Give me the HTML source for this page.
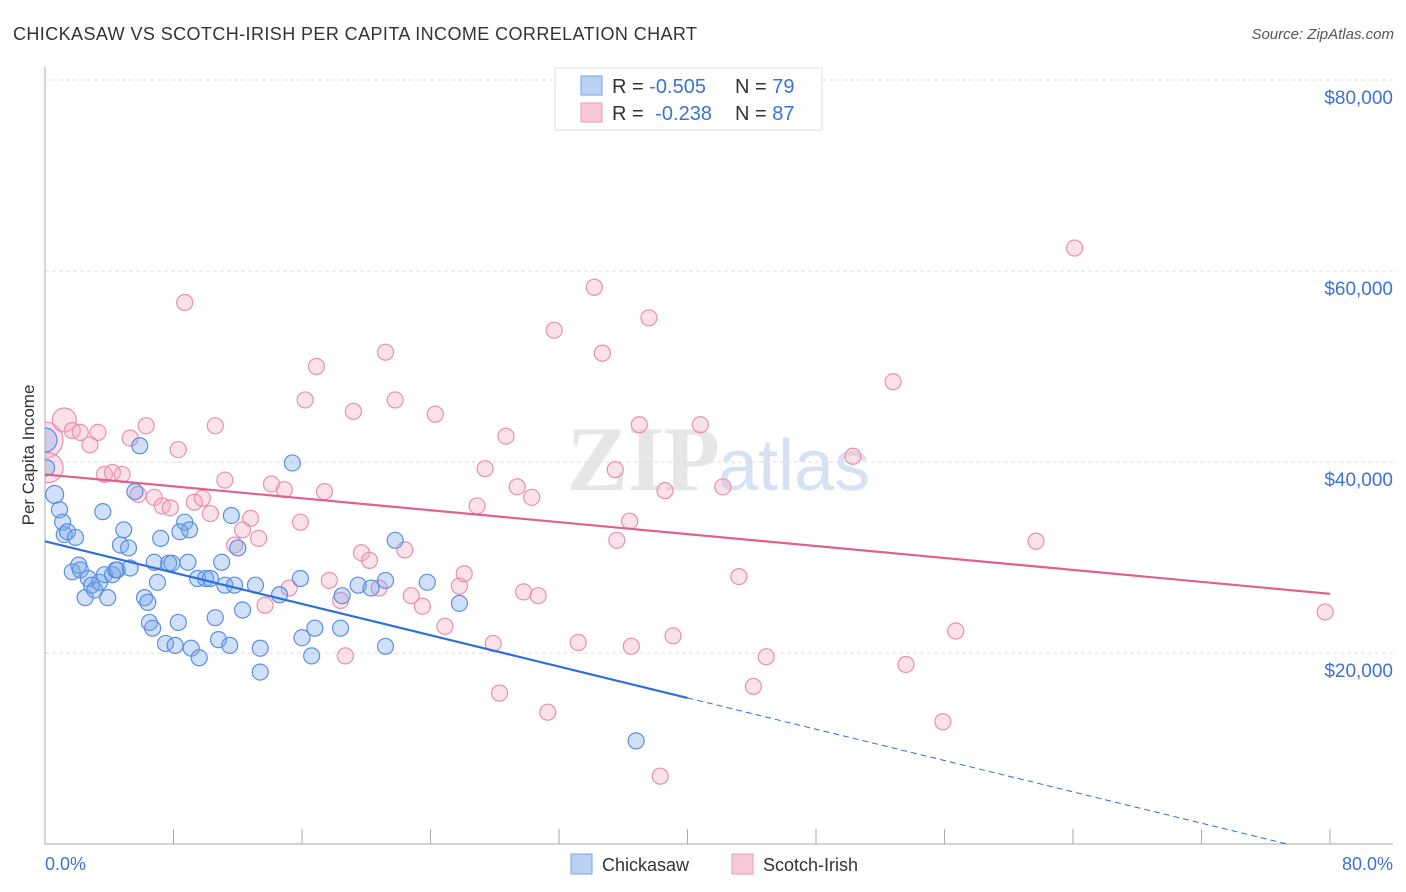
<!DOCTYPE html>
<html><head><meta charset="utf-8"><style>
body{margin:0;background:#fff;font-family:"Liberation Sans",sans-serif}
svg{display:block}
</style></head><body>
<svg id="chart" width="1406" height="892">
<defs><clipPath id="plotclip"><rect x="45" y="60" width="1360" height="784"/></clipPath></defs>
<text x="13" y="40" font-size="18" fill="#333" textLength="684">CHICKASAW VS SCOTCH-IRISH PER CAPITA INCOME CORRELATION CHART</text>
<text x="1394" y="39" font-size="15" fill="#555" font-style="italic" text-anchor="end">Source: ZipAtlas.com</text>
<text x="720" y="490" font-size="92" fill="#e6e6e6" text-anchor="end" font-family="Liberation Serif" font-weight="bold">ZIP</text>
<text x="718" y="490" font-size="72" fill="#d6e2f3">atlas</text>
<g id="grid"></g>
<g id="axes"></g>
<g id="pts" clip-path="url(#plotclip)"></g>
<g id="lines"></g>
<text transform="translate(34,455) rotate(-90)" font-size="17" fill="#333" text-anchor="middle">Per Capita Income</text>
<text x="45" y="870" font-size="18" fill="#3b73d0">0.0%</text>
<text x="1393" y="870" font-size="18" fill="#3b73d0" text-anchor="end">80.0%</text>
<g>
<rect x="555" y="68" width="267" height="62" fill="#fff" stroke="#ddd"/>
<rect x="581" y="76" width="21" height="19" fill="#b9d1f3" stroke="#7aa3e3"/>
<rect x="581" y="103" width="21" height="19" fill="#f9c9d7" stroke="#eb9ab4"/>
<text x="612" y="93" font-size="20" fill="#333">R = <tspan fill="#3b73d0">-0.505</tspan><tspan x="735">N = </tspan><tspan fill="#3b73d0">79</tspan></text>
<text x="612" y="120" font-size="20" fill="#333">R = <tspan fill="#3b73d0" dx="6">-0.238</tspan><tspan x="735">N = </tspan><tspan fill="#3b73d0">87</tspan></text>
</g>
<g>
<rect x="571" y="854" width="21" height="20" fill="#b9d1f3" stroke="#7aa3e3"/>
<text x="602" y="871" font-size="18" fill="#333">Chickasaw</text>
<rect x="732" y="854" width="21" height="20" fill="#f9c9d7" stroke="#eb9ab4"/>
<text x="763" y="871" font-size="18" fill="#333">Scotch-Irish</text>
</g>
</svg>
<script>
const yTicks=[20000,40000,60000,80000];
const yTickLabels=["$20,000","$40,000","$60,000","$80,000"];
const blueX=[0.0,0.1,0.6,0.9,1.1,1.2,1.4,1.7,1.9,2.1,2.2,2.5,2.7,2.9,3.1,3.4,3.6,3.7,3.9,4.2,4.4,4.5,4.7,4.9,5.2,5.3,5.6,5.9,6.2,6.4,6.5,6.7,6.8,7.0,7.2,7.5,7.7,7.9,8.1,8.3,8.4,8.7,8.9,9.0,9.1,9.5,9.6,10.0,10.3,10.6,10.8,11.0,11.2,11.5,11.6,11.8,12.0,12.3,13.1,13.4,13.4,14.6,15.4,15.9,16.0,16.6,16.8,18.4,18.5,19.5,20.3,21.2,21.2,21.8,23.8,25.8,36.8];
const blueY=[42.3,39.4,36.6,35.0,33.7,32.4,32.7,28.5,32.1,29.2,28.7,25.8,27.8,27.1,26.6,27.4,34.8,28.2,25.8,28.2,28.7,28.7,31.3,32.9,31.0,28.9,36.9,41.7,25.8,25.3,23.2,22.6,29.5,27.4,32.0,21.0,29.4,29.4,20.8,23.2,32.7,33.7,29.5,32.9,20.5,27.8,19.5,27.8,27.8,23.7,21.4,29.5,27.1,20.8,34.4,27.1,31.0,24.5,27.1,20.5,18.0,26.1,39.9,27.8,21.6,19.7,22.6,22.6,26.0,27.1,26.8,27.6,20.7,31.8,27.4,25.2,10.8];
const pinkX=[0.0,0.2,1.2,1.7,2.2,2.8,3.3,3.7,4.2,4.8,5.3,5.8,6.3,6.8,7.3,7.8,8.3,8.7,9.3,9.8,10.3,10.6,11.2,11.8,12.3,12.8,13.3,13.7,14.1,14.9,15.2,15.9,16.2,16.9,17.4,17.7,18.4,18.7,19.2,19.7,20.2,20.8,21.2,21.8,22.4,22.8,23.5,24.3,24.9,25.8,26.1,26.9,27.4,27.9,28.3,28.7,29.4,29.8,30.3,30.7,31.3,31.7,33.2,34.2,34.7,35.5,35.6,36.4,36.5,37.0,37.6,38.3,38.6,39.1,40.8,42.2,43.2,44.1,44.9,50.3,52.8,53.6,55.9,56.7,61.7,64.1,79.7];
const pinkY=[42.3,39.4,44.4,43.3,43.1,41.8,43.1,38.7,38.9,38.7,42.5,36.6,43.8,36.3,35.4,35.2,41.3,56.7,35.8,36.2,34.6,43.8,38.1,31.3,32.9,34.1,32.0,25.0,37.7,37.1,26.8,33.7,46.5,50.0,36.9,27.6,25.5,19.7,45.3,30.5,29.7,26.8,51.5,46.5,30.8,26.0,24.9,45.0,22.8,27.0,28.3,35.4,39.3,21.0,15.8,42.7,37.4,26.4,36.3,26.0,13.8,53.8,21.1,58.3,51.4,39.2,31.8,33.8,20.7,43.9,55.1,7.1,37.0,21.8,43.9,37.4,28.0,16.5,19.6,40.6,48.4,18.8,12.8,22.3,31.7,62.4,24.3];
const blueTrend=[31.7,15.3];
const pinkTrend=[38.7,26.2];
const NS="http://www.w3.org/2000/svg";
const X0=45,X1=1330,Y0=844,YTOP=80;
const sx=v=>X0+(v/80)*(X1-X0);
const sy=v=>Y0-(v/80000)*(Y0-YTOP);
function mk(tag,attrs,parent){const e=document.createElementNS(NS,tag);for(const k in attrs)e.setAttribute(k,attrs[k]);parent.appendChild(e);return e;}
const grid=document.getElementById('grid');
yTicks.forEach((t,i)=>{
  const l=mk('line',{x1:X0,x2:1393,y1:sy(t),y2:sy(t),stroke:'#ddd','stroke-dasharray':'4,3'},grid);
  
  
  const tx=mk('text',{x:1393,y:sy(t)+24,'font-size':19,fill:'#3b73d0','text-anchor':'end'},grid);
  tx.textContent=yTickLabels[i];
  
  
});
const ax=document.getElementById('axes');
const ya=mk('line',{x1:X0,x2:X0,y1:67,y2:Y0,stroke:'#aaa'},ax);


const xa=mk('line',{x1:X0,x2:1393,y1:Y0,y2:Y0,stroke:'#aaa'},ax);


for(let i=0;i<=10;i++){
  const t=mk('line',{x1:sx(i*8),x2:sx(i*8),y1:Y0,y2:Y0-15,stroke:'#aaa'},ax);
  
  
}
const pts=document.getElementById('pts');
function drawPts(xs,ys,fill,stroke,name,bigR){
  xs.forEach((x,i)=>{
    const r=i<bigR.length?bigR[i]:8;
    const c=mk('circle',{cx:sx(x),cy:sy(ys[i]*1000),r:r,fill:fill,stroke:stroke,'stroke-width':1.2},pts);
    
    
  });
}
drawPts(pinkX,pinkY,'rgba(244,170,195,0.35)','#e98fb0','scotch-irish-point',[18,15,12]);
drawPts(blueX,blueY,'rgba(120,165,235,0.35)','#5b8fe0','chickasaw-point',[12,8,9]);
const lines=document.getElementById('lines');
const bAt=x=>blueTrend[0]+(blueTrend[1]-blueTrend[0])*x/40;
const b1=mk('line',{x1:sx(0),y1:sy(bAt(0)*1000),x2:sx(40),y2:sy(bAt(40)*1000),stroke:'#2f6fd8','stroke-width':2.2},lines);


const xz=-blueTrend[0]/((blueTrend[1]-blueTrend[0])/40);
const b2=mk('line',{x1:sx(40),y1:sy(bAt(40)*1000),x2:sx(xz),y2:sy(0),stroke:'#2f6fd8','stroke-width':1,'stroke-dasharray':'6,4'},lines);


const p1=mk('line',{x1:sx(0),y1:sy(pinkTrend[0]*1000),x2:sx(80),y2:sy(pinkTrend[1]*1000),stroke:'#e0608f','stroke-width':2.2},lines);


</script>
</body></html>
